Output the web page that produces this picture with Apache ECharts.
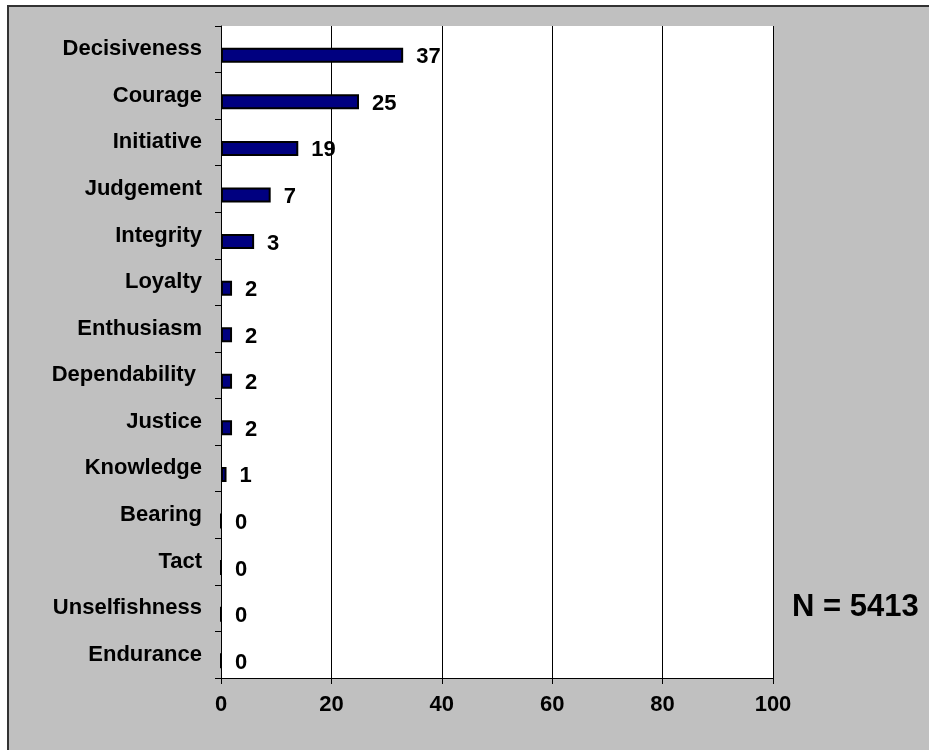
<!DOCTYPE html>
<html>
<head>
<meta charset="utf-8">
<script src="https://cdn.jsdelivr.net/npm/echarts@6/dist/echarts.min.js"></script>
<style>
html, body { margin: 0; padding: 0; background: #fff; }
#chart { width: 929px; height: 750px; }
</style>
</head>
<body>
<div id="chart"></div>
<script>
"use strict";

/*****Data start*****/
var categories = ['Decisiveness', 'Courage', 'Initiative', 'Judgement', 'Integrity', 'Loyalty',
	'Enthusiasm', 'Dependability ', 'Justice', 'Knowledge', 'Bearing', 'Tact', 'Unselfishness', 'Endurance'];
// bar lengths as drawn in the picture
var barValues = [33, 25, 14, 9, 6, 2, 2, 2, 2, 1, 0, 0, 0, 0];
// numbers printed beside the bars
var labelValues = [37, 25, 19, 7, 3, 2, 2, 2, 2, 1, 0, 0, 0, 0];
var xTicks = [0, 20, 40, 60, 80, 100];
var noteText = 'N = 5413';
/*****Data end*****/

var fontFam = "'Liberation Sans', Arial, sans-serif";

var chart = echarts.init(document.getElementById('chart'));
var option = {
	backgroundColor: '#ffffff',
	animation: false,
	graphic: [
		{
			type: 'rect',
			z: -10,
			shape: { x: 8, y: 6, width: 960, height: 800 },
			style: { fill: '#c0c0c0', stroke: '#333333', lineWidth: 2 }
		},
		{
			type: 'rect',
			z: -5,
			shape: { x: 221, y: 26, width: 552, height: 652 },
			style: { fill: '#ffffff' }
		},
		{
			type: 'text',
			left: 792,
			top: 592,
			style: {
				text: noteText,
				fill: '#000',
				font: 'bold 31px ' + fontFam
			}
		}
	],
	grid: {
		left: 221,
		top: 26,
		right: 156,
		bottom: 72
	},
	xAxis: {
		type: 'value',
		min: xTicks[0],
		max: xTicks[xTicks.length - 1],
		interval: 20,
		axisLine: { show: true, lineStyle: { color: '#000', width: 1 } },
		axisTick: { show: true, length: 6, lineStyle: { color: '#000' } },
		splitLine: { show: true, lineStyle: { color: '#000', width: 1 } },
		axisLabel: {
			color: '#000',
			fontFamily: fontFam,
			fontWeight: 'bold',
			fontSize: 22,
			margin: 16
		}
	},
	yAxis: {
		type: 'category',
		inverse: true,
		data: categories,
		axisLine: { show: true, lineStyle: { color: '#000', width: 1 } },
		axisTick: { show: true, length: 6, lineStyle: { color: '#000' } },
		axisLabel: {
			color: '#000',
			fontFamily: fontFam,
			fontWeight: 'bold',
			fontSize: 22,
			margin: 19
		}
	},
	series: [
		{
			// empty spacer so the real bars sit a little below the category centre
			type: 'bar',
			data: [],
			barWidth: 15,
			barGap: '-20%'
		},
		{
			type: 'bar',
			data: barValues,
			barWidth: 15,
			itemStyle: {
				color: '#000080',
				borderColor: '#000',
				borderWidth: 2
			},
			label: {
				show: true,
				position: 'right',
				distance: 13,
				offset: [0, 2],
				color: '#000',
				fontFamily: fontFam,
				fontWeight: 'bold',
				fontSize: 22,
				formatter: function (p) {
					return labelValues[p.dataIndex];
				}
			}
		}
	]
};
chart.setOption(option);
</script>
</body>
</html>
